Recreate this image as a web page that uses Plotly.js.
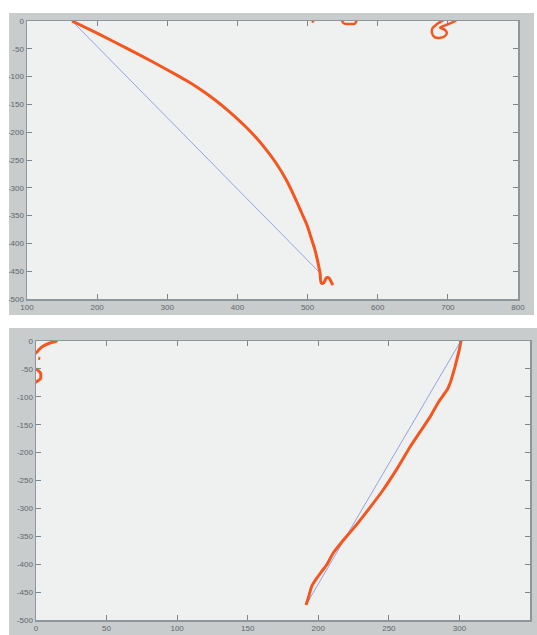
<!DOCTYPE html>
<html>
<head>
<meta charset="utf-8">
<script src="https://cdn.plot.ly/plotly-3.0.1.min.js"></script>
<style>
  html, body { margin: 0; padding: 0; background: #ffffff; width: 537px; height: 635px; overflow: hidden; }
  #top { position: absolute; left: 9px; top: 13px; width: 525px; height: 302px; }
  #bot { position: absolute; left: 9px; top: 328px; width: 528px; height: 307px; }
</style>
</head>
<body>
<div id="top"></div>
<div id="bot"></div>
<script>
// ---------- Top panel data ----------
const topCurveX = [164.2, 202.7, 241.1, 279.6, 318.1, 326.7, 340.9, 355.2, 369.5, 383.7, 398, 412.2, 426.5, 440.7, 455, 469.3, 483.5, 491.3, 499.2, 504.9, 510.6, 514.9, 517.7, 518.5, 519.5, 522, 524.5, 526, 528.5, 531, 534, 536];
const topCurveY = [0, -23.7, -48.2, -73.7, -100.4, -106.7, -117.8, -130, -143.5, -157.9, -173.6, -190.6, -209.5, -230.8, -255.4, -285.1, -322, -344.4, -367, -389.4, -412, -435, -453, -465, -471, -472, -468, -463, -461.5, -463, -470, -475];
const topScrapX = [507, 508, null, 549, 550, 552, 556, 562, 567, 569, 570, null, 694, 684, 678, 677.5, 681, 688, 695, 698.5, 696, 689, 696, 704, 712];
const topScrapY = [2, -3, null, 3, -2, -4.5, -5.5, -5.5, -5, -2, 3, null, 2, -6, -13, -22, -29, -30.5, -28, -22, -16, -12, -8, -4, 1];
const topChordX = [164.2, 520];
const topChordY = [0, -456];
const topXTicks = [100, 200, 300, 400, 500, 600, 700, 800];

// ---------- Bottom panel data ----------
const botCurveX = [301.5, 301, 299.9, 298.5, 296.9, 295.2, 293.5, 291.8, 289.5, 284.8, 279.2, 272.1, 265, 256.5, 245.9, 235.2, 223.9, 217.7, 210.6, 206, 202.4, 198.9, 195.3, 192.9, 191.3];
const botCurveY = [1, -1.3, -16, -30, -46, -61, -75, -85, -94, -111, -136, -163, -190, -226, -267, -303, -339, -357, -380, -401, -413, -425, -440, -461, -473];
const botScrapX = [14.9, 13.5, 9.9, 5.2, 2.3, 0.9, -1, null, 1.6, 3, null, -1, 1.6, 3.3, 3.4, 3.3, 1.6, -1];
const botScrapY = [1, -1.3, -3.6, -9, -14.9, -19.2, -23, null, -31, -31.5, null, -49, -53, -58, -62, -67, -71, -75];
const botChordX = [300.5, 192];
const botChordY = [-2, -470];
const botXTicks = [0, 50, 100, 150, 200, 250, 300, 350];

const yTicks = [0, -50, -100, -150, -200, -250, -300, -350, -400, -450, -500];
const yTickText = yTicks.map(v => String(v));

const orange = '#f4561f';
const blue = '#94a3df';
const tickFont = {family: 'Liberation Sans, Arial, sans-serif', size: 8, color: '#5d666b'};

function axisBase() {
  return {
    ticks: 'inside', ticklen: 5, tickwidth: 1, tickcolor: '#7d878b',
    showline: true, mirror: 'ticks', linecolor: '#8d979b', linewidth: 1.5,
    showgrid: false, zeroline: false, tickfont: tickFont, fixedrange: true
  };
}

function makeLayout(w, h, m, xr, xt) {
  return {
    width: w, height: h,
    margin: m,
    paper_bgcolor: '#c9cccd',
    plot_bgcolor: '#eff1f0',
    showlegend: false,
    xaxis: Object.assign(axisBase(), {range: xr, tickvals: xt, ticktext: xt.map(String)}),
    yaxis: Object.assign(axisBase(), {range: [-500, 0], tickvals: yTicks, ticktext: yTickText})
  };
}

const cfg = {staticPlot: true, displayModeBar: false};

Plotly.newPlot('top', [
  {x: topChordX, y: topChordY, mode: 'lines', line: {color: blue, width: 1}},
  {x: topCurveX, y: topCurveY, mode: 'lines', line: {color: orange, width: 3, shape: 'spline', smoothing: 0.5}},
  {x: topScrapX, y: topScrapY, mode: 'lines', line: {color: orange, width: 2.5, shape: 'spline', smoothing: 0.8}}
], makeLayout(525, 302, {l: 18, r: 16, t: 8, b: 16, pad: 0}, [100, 800], topXTicks), cfg);

Plotly.newPlot('bot', [
  {x: botChordX, y: botChordY, mode: 'lines', line: {color: blue, width: 1}},
  {x: botCurveX, y: botCurveY, mode: 'lines', line: {color: orange, width: 3, shape: 'spline', smoothing: 0.6}},
  {x: botScrapX, y: botScrapY, mode: 'lines', line: {color: orange, width: 3, shape: 'spline', smoothing: 0.6}}
], makeLayout(528, 307, {l: 27, r: 7, t: 13, b: 15, pad: 0}, [0, 350], botXTicks), cfg);
</script>
</body>
</html>
